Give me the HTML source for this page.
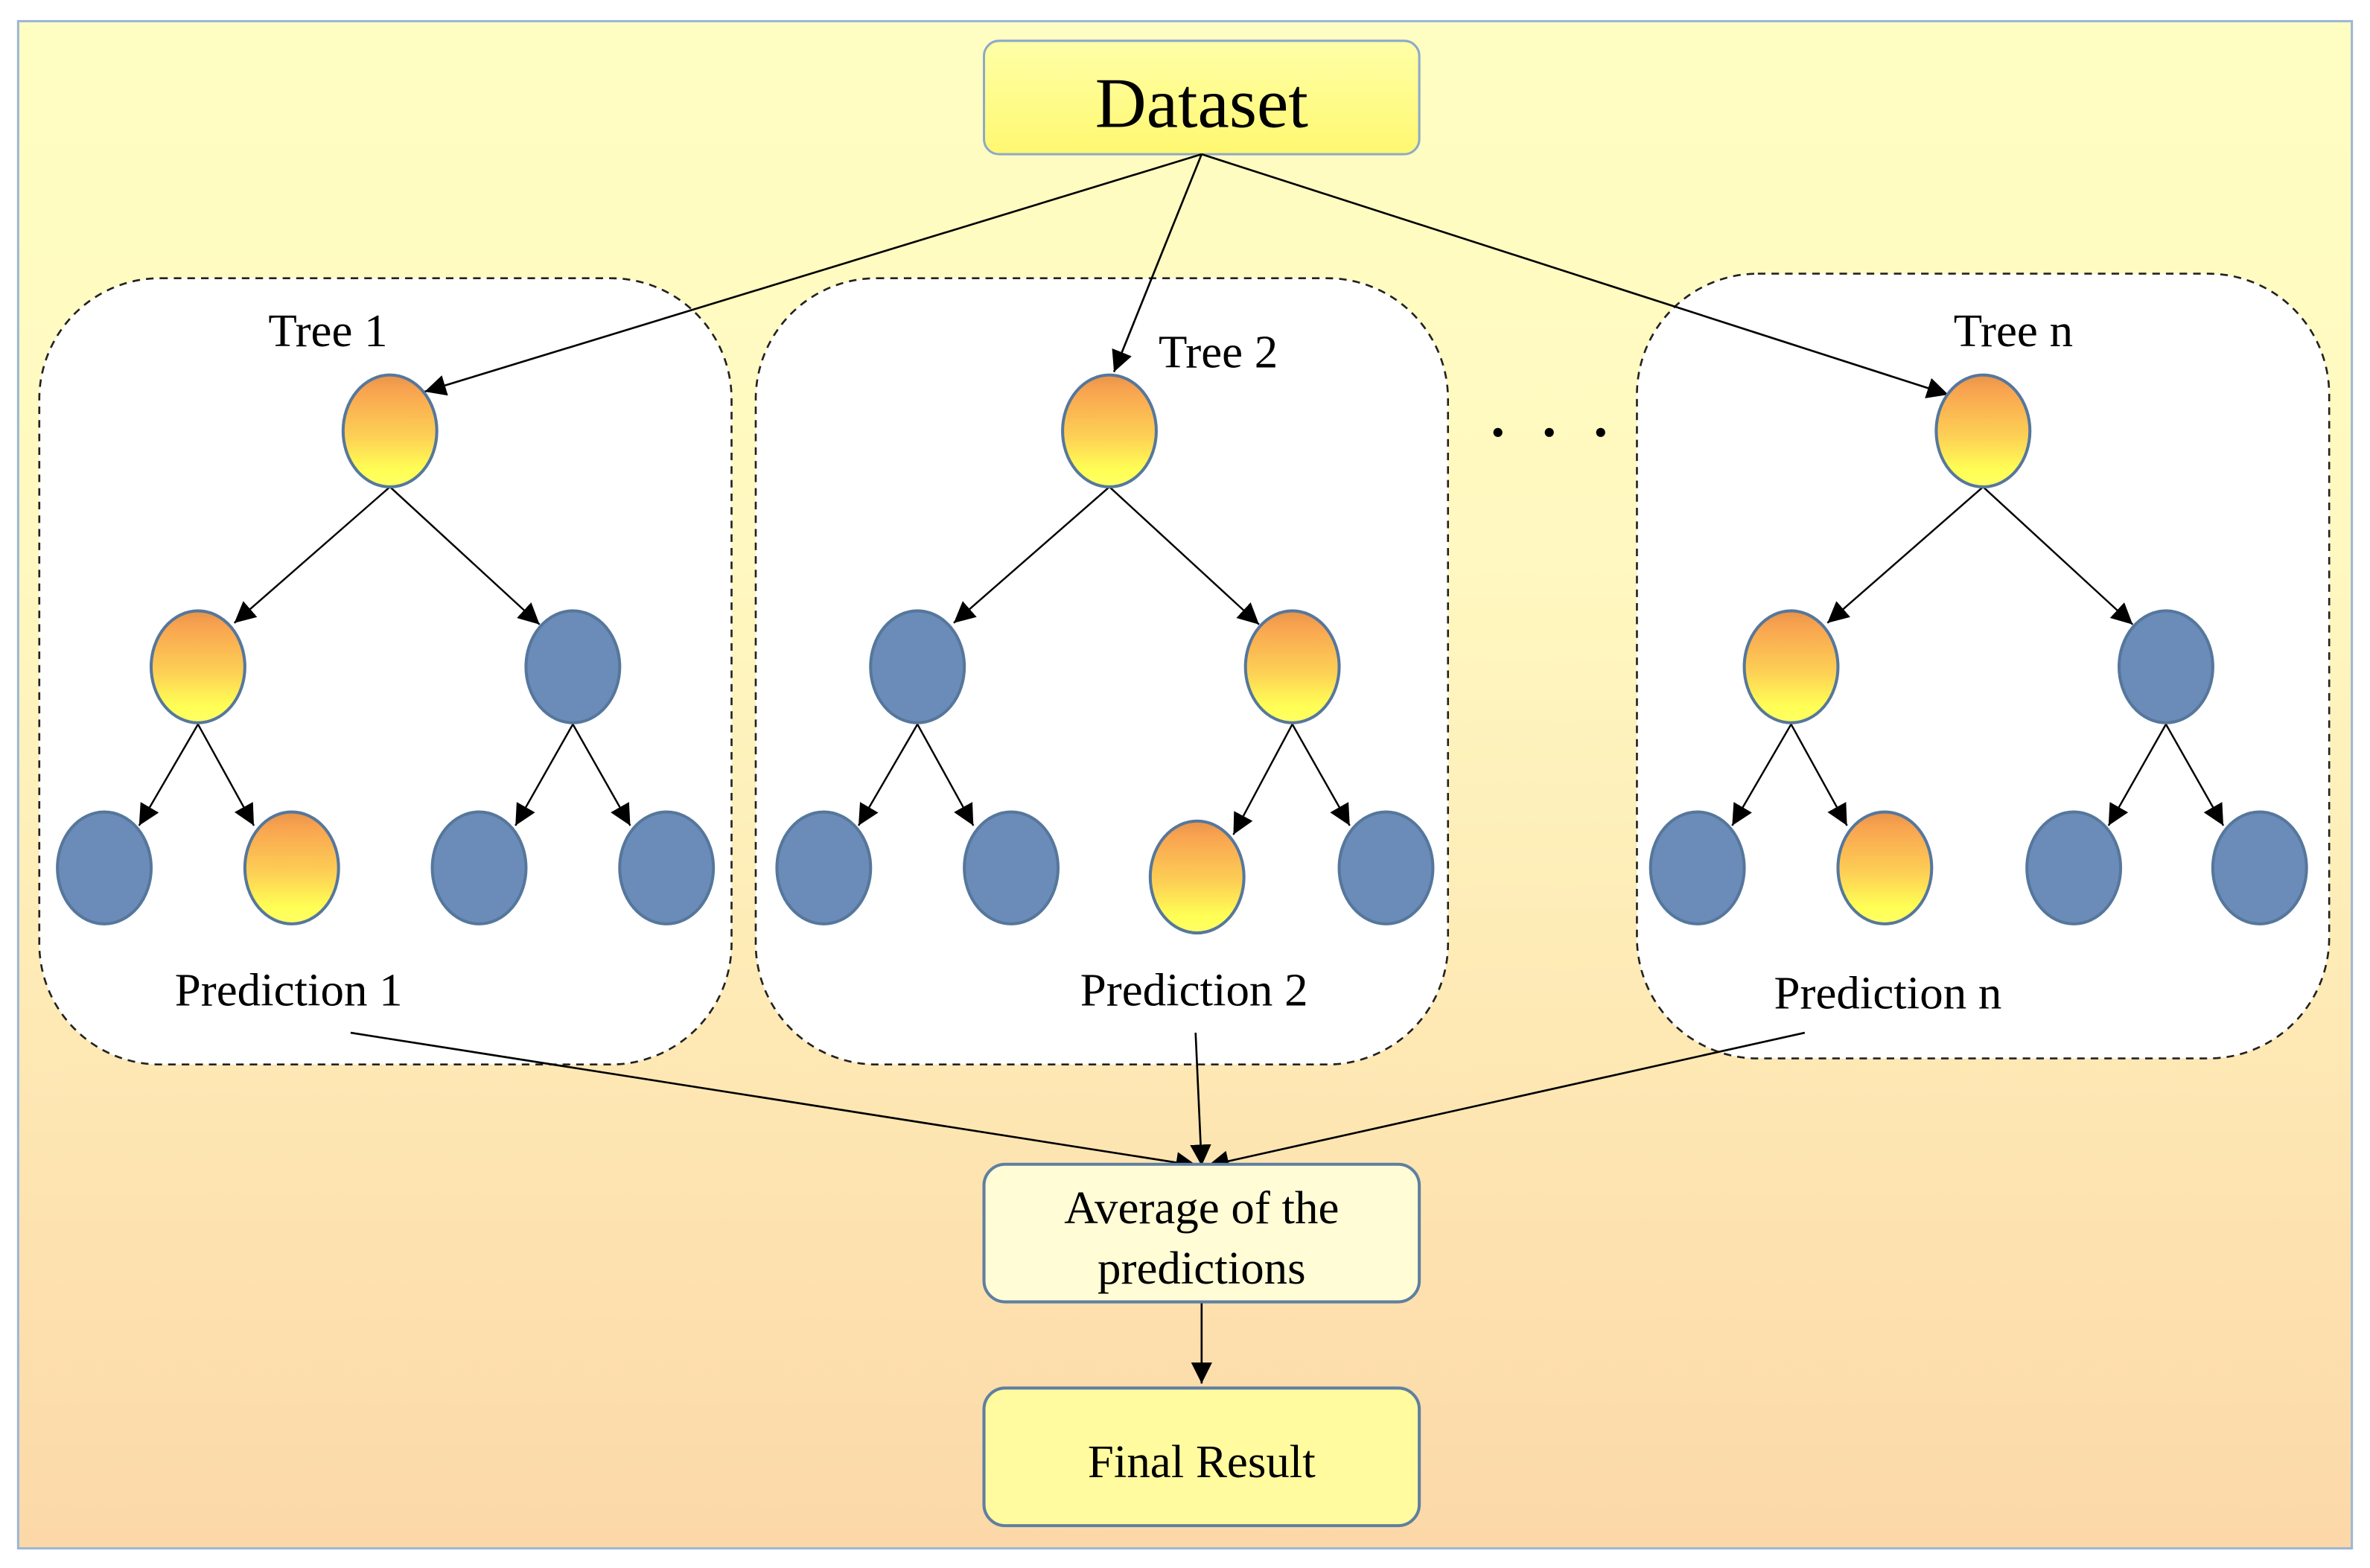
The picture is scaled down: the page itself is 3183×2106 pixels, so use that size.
<!DOCTYPE html>
<html><head><meta charset="utf-8"><style>
html,body{margin:0;padding:0;background:#fff;}
svg{display:block;}
text{font-family:"Liberation Serif",serif;fill:#000;}
</style></head><body>
<svg width="3183" height="2106" viewBox="0 0 1568 1037" preserveAspectRatio="none" xmlns="http://www.w3.org/2000/svg">
<defs>
<linearGradient id="bg" x1="0" y1="0" x2="0" y2="1">
<stop offset="0" stop-color="#FFFEC2"/><stop offset="0.35" stop-color="#FFF8C0"/><stop offset="1" stop-color="#FCD8A8"/>
</linearGradient>
<linearGradient id="org" x1="0" y1="0" x2="0" y2="1">
<stop offset="0" stop-color="#E8944A"/><stop offset="0.15" stop-color="#F9A550"/><stop offset="0.55" stop-color="#FDD055"/><stop offset="0.85" stop-color="#FFFF55"/><stop offset="1" stop-color="#FFFF66"/>
</linearGradient>
<linearGradient id="ds" x1="0" y1="0" x2="0" y2="1">
<stop offset="0" stop-color="#FFFFA8"/><stop offset="1" stop-color="#FFF870"/>
</linearGradient>
<marker id="ar" viewBox="0 0 10 10" refX="10" refY="5" markerWidth="14" markerHeight="14" markerUnits="userSpaceOnUse" orient="auto">
<path d="M0,0 L10,5 L0,10 z" fill="#000"/>
</marker>
</defs>
<rect x="12" y="14" width="1544" height="1010" fill="url(#bg)" stroke="#9db6d6" stroke-width="1.5"/>

<g fill="#fff" stroke="#222" stroke-width="1.3" stroke-dasharray="5,4">
<rect x="26" y="184" width="458" height="520" rx="80"/>
<rect x="500" y="184" width="458" height="520" rx="80"/>
<rect x="1083" y="181" width="458" height="519" rx="80"/>
</g>

<rect x="651" y="27" width="288" height="75" rx="10" fill="url(#ds)" stroke="#8fa8c8" stroke-width="1.5"/>
<text x="795" y="84" font-size="47" text-anchor="middle">Dataset</text>

<g stroke="#000" stroke-width="1.3" marker-end="url(#ar)">
<line x1="795" y1="102" x2="281" y2="259"/>
<line x1="795" y1="102" x2="737" y2="246"/>
<line x1="795" y1="102" x2="1289" y2="261"/>
</g>

<text x="217" y="229" font-size="31" text-anchor="middle">Tree 1</text>
<text x="806" y="243" font-size="31" text-anchor="middle">Tree 2</text>
<text x="1332" y="229" font-size="31" text-anchor="middle">Tree n</text>
<g fill="#000"><circle cx="991" cy="286" r="3"/><circle cx="1025" cy="286" r="3"/><circle cx="1059" cy="286" r="3"/></g>

<g stroke="#000" stroke-width="1.2" marker-end="url(#ar)">
<line x1="258" y1="322" x2="155" y2="412"/><line x1="258" y1="322" x2="357" y2="413"/>
<line x1="131" y1="479" x2="92" y2="546"/><line x1="131" y1="479" x2="168" y2="546"/>
<line x1="379" y1="479" x2="341" y2="546"/><line x1="379" y1="479" x2="417" y2="546"/>
<line x1="734" y1="322" x2="631" y2="412"/><line x1="734" y1="322" x2="833" y2="413"/>
<line x1="607" y1="479" x2="568" y2="546"/><line x1="607" y1="479" x2="644" y2="546"/>
<line x1="855" y1="479" x2="816" y2="552"/><line x1="855" y1="479" x2="893" y2="546"/>
<line x1="1312" y1="322" x2="1209" y2="412"/><line x1="1312" y1="322" x2="1411" y2="413"/>
<line x1="1185" y1="479" x2="1146" y2="546"/><line x1="1185" y1="479" x2="1222" y2="546"/>
<line x1="1433" y1="479" x2="1395" y2="546"/><line x1="1433" y1="479" x2="1471" y2="546"/>
</g>

<g stroke="#56779c" stroke-width="2">
<ellipse cx="258" cy="285" rx="31" ry="37" fill="url(#org)"/>
<ellipse cx="131" cy="441" rx="31" ry="37" fill="url(#org)"/>
<ellipse cx="379" cy="441" rx="31" ry="37" fill="#6b8cb8"/>
<ellipse cx="69" cy="574" rx="31" ry="37" fill="#6b8cb8"/>
<ellipse cx="193" cy="574" rx="31" ry="37" fill="url(#org)"/>
<ellipse cx="317" cy="574" rx="31" ry="37" fill="#6b8cb8"/>
<ellipse cx="441" cy="574" rx="31" ry="37" fill="#6b8cb8"/>

<ellipse cx="734" cy="285" rx="31" ry="37" fill="url(#org)"/>
<ellipse cx="607" cy="441" rx="31" ry="37" fill="#6b8cb8"/>
<ellipse cx="855" cy="441" rx="31" ry="37" fill="url(#org)"/>
<ellipse cx="545" cy="574" rx="31" ry="37" fill="#6b8cb8"/>
<ellipse cx="669" cy="574" rx="31" ry="37" fill="#6b8cb8"/>
<ellipse cx="792" cy="580" rx="31" ry="37" fill="url(#org)"/>
<ellipse cx="917" cy="574" rx="31" ry="37" fill="#6b8cb8"/>

<ellipse cx="1312" cy="285" rx="31" ry="37" fill="url(#org)"/>
<ellipse cx="1185" cy="441" rx="31" ry="37" fill="url(#org)"/>
<ellipse cx="1433" cy="441" rx="31" ry="37" fill="#6b8cb8"/>
<ellipse cx="1123" cy="574" rx="31" ry="37" fill="#6b8cb8"/>
<ellipse cx="1247" cy="574" rx="31" ry="37" fill="url(#org)"/>
<ellipse cx="1372" cy="574" rx="31" ry="37" fill="#6b8cb8"/>
<ellipse cx="1495" cy="574" rx="31" ry="37" fill="#6b8cb8"/>
</g>

<text x="191" y="665" font-size="31" text-anchor="middle">Prediction 1</text>
<text x="790" y="665" font-size="31" text-anchor="middle">Prediction 2</text>
<text x="1249" y="667" font-size="31" text-anchor="middle">Prediction n</text>

<g stroke="#000" stroke-width="1.3" marker-end="url(#ar)">
<line x1="232" y1="683" x2="792" y2="771"/>
<line x1="791" y1="683" x2="795" y2="771"/>
<line x1="1194" y1="683" x2="799" y2="771"/>
<line x1="795" y1="861" x2="795" y2="915"/>
</g>

<rect x="651" y="770" width="288" height="91" rx="14" fill="#FFFCD6" stroke="#5f7fa0" stroke-width="2"/>
<text x="795" y="809" font-size="31" text-anchor="middle">Average of the</text>
<text x="795" y="849" font-size="31" text-anchor="middle">predictions</text>

<rect x="651" y="918" width="288" height="91" rx="14" fill="#FFFB9E" stroke="#5f7fa0" stroke-width="2"/>
<text x="795" y="977" font-size="31" text-anchor="middle">Final Result</text>
</svg>
</body></html>
